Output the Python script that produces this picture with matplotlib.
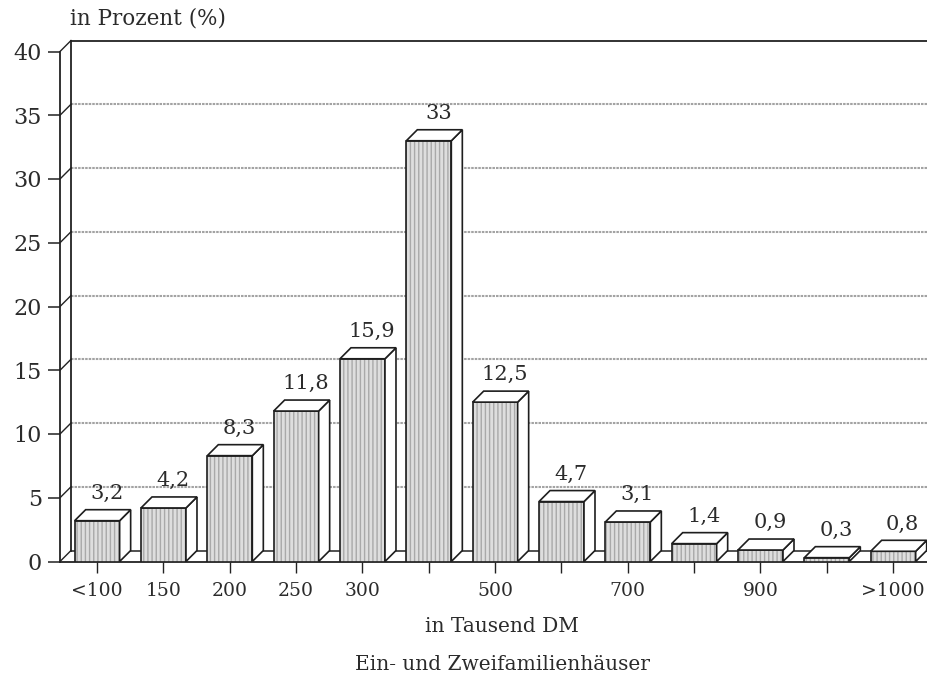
import matplotlib
matplotlib.use("Agg")
import matplotlib.pyplot as plt
from matplotlib.patches import Polygon, Rectangle

# Price classes (thousand DM) and share of houses in percent
categories = ["<100", "150", "200", "250", "300", "400", "500",
              "600", "700", "800", "900", "1000", ">1000"]
tick_labels = ["<100", "150", "200", "250", "300", "", "500",
               "", "700", "", "900", "", ">1000"]
values = [3.2, 4.2, 8.3, 11.8, 15.9, 33, 12.5, 4.7, 3.1, 1.4, 0.9, 0.3, 0.8]
y_ticks = [0, 5, 10, 15, 20, 25, 30, 35, 40]

FONT = "DejaVu Serif"
INK = "#2b2b2b"

W, H = 927, 677
fig = plt.figure(figsize=(W / 100, H / 100), dpi=100)

# axes: data x = category index, data y = percent
ax_left_px, ax_right_px = 60, 927
y0_px, y40_px = 561.5, 51.5
xmin, xmax = -0.56, 12.51
ax = fig.add_axes([ax_left_px / W, 1 - y0_px / H,
                   (ax_right_px - ax_left_px) / W, (y0_px - y40_px) / H])
ax.set_xlim(xmin, xmax)
ax.set_ylim(0, 40)

px_x = (ax_right_px - ax_left_px) / (xmax - xmin)
px_y = (y0_px - y40_px) / 40
depth_px = 11
dx = depth_px / px_x
dy = depth_px / px_y
bar_w = 45 / px_x

# back wall and floor
xb = xmin + dx
far = xmax + 1
for t in y_ticks[1:-1]:
    ax.plot([xb, far], [t + dy, t + dy], color="#a3a3a3", lw=1.5,
            ls=(0, (1.2, 0.5)), zorder=1, clip_on=False)
ax.plot([xb, far], [40 + dy, 40 + dy], color="#222", lw=1.3, zorder=2, clip_on=False)
ax.plot([xb, far], [dy, dy], color="#222", lw=1.1, zorder=2, clip_on=False)
ax.plot([xb, xb], [dy, 40 + dy], color="#222", lw=1.3, zorder=2, clip_on=False)
for t in y_ticks:
    ax.plot([xmin, xb], [t, t + dy], color="#222", lw=1.0, zorder=2, clip_on=False)

# 3D bars
for i, v in enumerate(values):
    x0 = i - bar_w / 2
    x1 = i + bar_w / 2
    front = Rectangle((x0, 0), bar_w, v, facecolor="#dedede", edgecolor="#a9a9a9",
                      hatch="||||", lw=0, zorder=3)
    ax.add_patch(front)
    ax.add_patch(Rectangle((x0, 0), bar_w, v, facecolor="none", edgecolor="#1e1e1e",
                           lw=1.2, zorder=4))
    top = Polygon([(x0, v), (x1, v), (x1 + dx, v + dy), (x0 + dx, v + dy)],
                  closed=True, facecolor="white", edgecolor="#1e1e1e", lw=1.2, zorder=4)
    side = Polygon([(x1, 0), (x1 + dx, dy), (x1 + dx, v + dy), (x1, v)],
                   closed=True, facecolor="white", edgecolor="#1e1e1e", lw=1.2, zorder=4)
    ax.add_patch(side)
    ax.add_patch(top)
    label = f"{v:g}".replace(".", ",")
    ax.text(i + dx / 2 + 0.06, v + dy + 0.85, label, ha="center", va="baseline",
            fontsize=15, family=FONT, color=INK, zorder=5)

# axes styling
for s in ("top", "right"):
    ax.spines[s].set_visible(False)
ax.spines["left"].set_color("#222")
ax.spines["left"].set_linewidth(1.3)
ax.spines["bottom"].set_color("#222")
ax.spines["bottom"].set_linewidth(1.3)
ax.spines["bottom"].set_bounds(xmin, far)
ax.set_facecolor("none")

ax.set_yticks(y_ticks)
ax.set_yticklabels([str(t) for t in y_ticks], family=FONT, fontsize=16, color=INK)
ax.set_xticks(range(len(categories)))
ax.set_xticklabels(tick_labels, family=FONT, fontsize=13.5, color=INK)
ax.tick_params(axis="y", direction="out", length=9, width=1.1, color="#222", pad=4)
ax.tick_params(axis="x", direction="out", length=8, width=1.0, color="#222", pad=7)

fig.text(70 / W, 1 - 18 / H, "in Prozent (%)", ha="left", va="center",
         family=FONT, fontsize=15.5, color=INK)
fig.text(502 / W, 1 - 627 / H, "in Tausend DM", ha="center", va="center",
         family=FONT, fontsize=14.5, color=INK)
fig.text(502 / W, 1 - 665 / H, "Ein- und Zweifamilienhäuser", ha="center", va="center",
         family=FONT, fontsize=14.5, color=INK)

fig.savefig("out.png", dpi=100)
